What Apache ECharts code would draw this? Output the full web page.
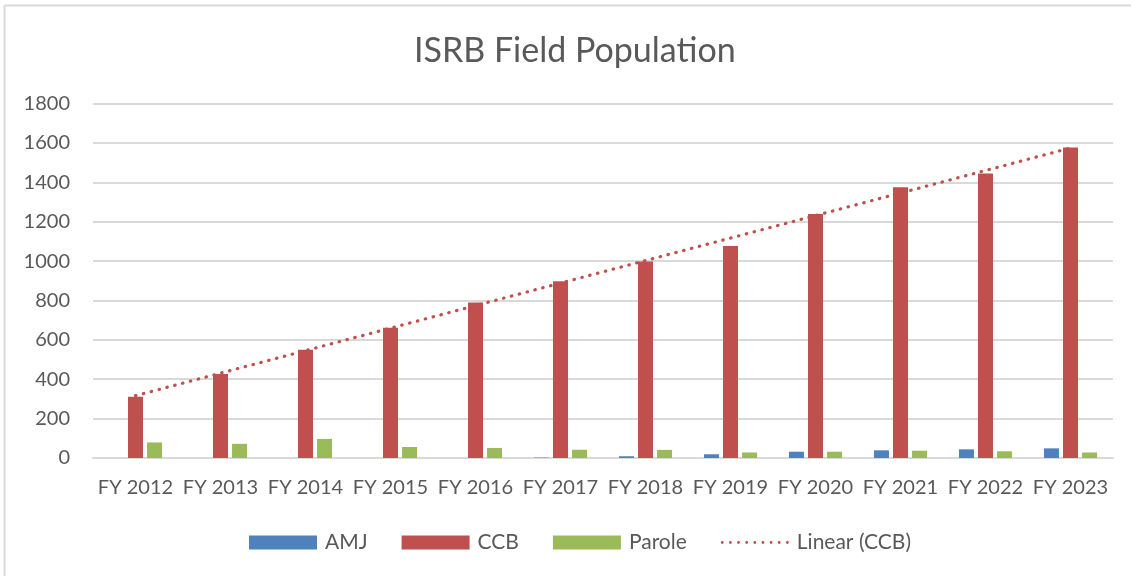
<!DOCTYPE html>
<html>
<head>
<meta charset="utf-8">
<script src="https://cdn.jsdelivr.net/npm/echarts@6/dist/echarts.min.js"></script>
<style>
html,body{margin:0;padding:0;background:#fff;}
#chart{width:1131px;height:576px;}
</style>
</head>
<body>
<div id="chart"></div>
<script>
const categories = ['FY 2012','FY 2013','FY 2014','FY 2015','FY 2016','FY 2017','FY 2018','FY 2019','FY 2020','FY 2021','FY 2022','FY 2023'];
const amj    = [0, 0, 0, 0, 0, 2, 9, 19, 32, 39, 44, 49];
const ccb    = [311, 426, 550, 661, 790, 898, 998, 1076, 1239, 1375, 1444, 1576];
const parole = [79, 72, 97, 56, 51, 42, 41, 28, 32, 37, 34, 28];
const yTicks = {min: 0, max: 1800, interval: 200};

// Linear trendline (least squares) of CCB
function linearTrend(vals) {
  const n = vals.length;
  let sx = 0, sy = 0, sxy = 0, sxx = 0;
  vals.forEach((v, i) => { const x = i + 1; sx += x; sy += v; sxy += x * v; sxx += x * x; });
  const b = (n * sxy - sx * sy) / (n * sxx - sx * sx);
  const a = (sy - b * sx) / n;
  return vals.map((_, i) => +(a + b * (i + 1)).toFixed(2));
}
const ccbTrend = linearTrend(ccb);

// dotted legend icon (9 round dots)
let dotPath = 'path://';
for (let i = 0; i < 9; i++) {
  const x = i * 8.6;
  dotPath += 'M' + x + ',1.5a1.5,1.5 0 1 0 3,0a1.5,1.5 0 1 0 -3,0z';
}

const FONT = 'Lato, "Open Sans", sans-serif';
const TXT = '#595959';

const chart = echarts.init(document.getElementById('chart'), null, {renderer: 'canvas'});
chart.setOption({
  animation: false,
  backgroundColor: '#ffffff',
  title: {
    text: 'ISRB Field Population',
    left: 409,
    top: 29,
    textStyle: {fontFamily: FONT, fontSize: 34, fontWeight: 'normal', color: TXT}
  },
  graphic: [
    {type: 'line', shape: {x1: 4.5, y1: 5.5, x2: 1131, y2: 5.5}, style: {stroke: '#d9d9d9', lineWidth: 2}},
    {type: 'line', shape: {x1: 4.5, y1: 5.5, x2: 4.5, y2: 576}, style: {stroke: '#d9d9d9', lineWidth: 2}}
  ],
  legend: {
    top: 527,
    left: 244,
    itemWidth: 68,
    itemHeight: 14,
    itemGap: 34,
    symbolKeepAspect: true,
    textStyle: {fontFamily: FONT, fontSize: 21, color: TXT, padding: [0, 0, 0, 3]},
    data: [
      {name: 'AMJ', icon: 'rect'},
      {name: 'CCB', icon: 'rect'},
      {name: 'Parole', icon: 'rect'},
      {name: 'Linear (CCB)', icon: dotPath, itemStyle: {color: '#c0504d'}}
    ]
  },
  grid: {left: 93, right: 18, top: 103.5, bottom: 118, containLabel: false},
  xAxis: {
    type: 'category',
    data: categories,
    axisTick: {show: false},
    axisLine: {show: true, lineStyle: {color: '#d9d9d9', width: 2}},
    axisLabel: {fontFamily: FONT, fontSize: 20, color: TXT, margin: 20, interval: 0}
  },
  yAxis: {
    type: 'value',
    min: yTicks.min, max: yTicks.max, interval: yTicks.interval,
    axisLine: {show: false},
    axisTick: {show: false},
    axisLabel: {fontFamily: FONT, fontSize: 20, color: TXT, margin: 23, formatter: v => String(v)},
    splitLine: {lineStyle: {color: '#d9d9d9', width: 2}}
  },
  series: [
    {name: 'AMJ', type: 'bar', data: amj, barWidth: 15, barGap: '27%', itemStyle: {color: '#4f81bd'}},
    {name: 'CCB', type: 'bar', data: ccb, barWidth: 15, barGap: '27%', itemStyle: {color: '#c0504d'}},
    {name: 'Parole', type: 'bar', data: parole, barWidth: 15, barGap: '27%', itemStyle: {color: '#9bbb59'}},
    {name: 'Linear (CCB)', type: 'line', data: ccbTrend, symbol: 'none', z: 5,
     itemStyle: {color: '#c0504d'},
     lineStyle: {color: '#c0504d', width: 3.2, type: [0.5, 7.6], cap: 'round'}}
  ]
});
</script>
</body>
</html>
